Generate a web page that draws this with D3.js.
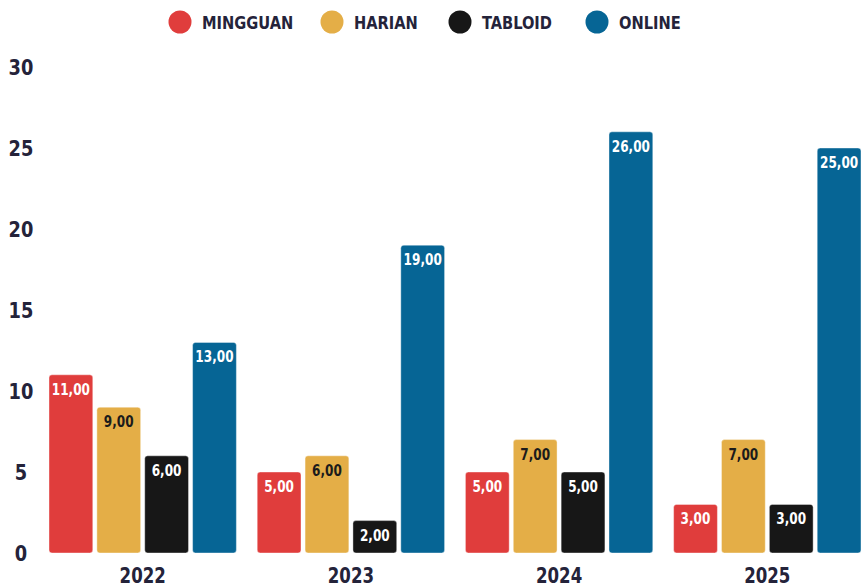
<!DOCTYPE html>
<html>
<head>
<meta charset="utf-8">
<script src="https://cdn.jsdelivr.net/npm/d3@7"></script>
<style>
  body { margin: 0; background: #fff; }
  text { font-family: "DejaVu Sans Condensed", sans-serif; font-weight: bold; }
</style>
</head>
<body>
<svg id="chart" width="863" height="588"></svg>
<script>
const years = ["2022", "2023", "2024", "2025"];
const seriesNames = ["MINGGUAN", "HARIAN", "TABLOID", "ONLINE"];
const mingguan = [11, 5, 5, 3];
const harian = [9, 6, 7, 7];
const tabloid = [6, 2, 5, 3];
const online = [13, 19, 26, 25];
const yTicks = [0, 5, 10, 15, 20, 25, 30];

const colors = ["#e03d3c", "#e4ae47", "#171717", "#066595"];
const labelColors = ["#fff", "#1b1b1b", "#fff", "#fff"];
const ink = "#24233a";

const svg = d3.select("#chart");

const values = [mingguan, harian, tabloid, online];
const data = years.map((yr, i) => ({
    year: yr,
    bars: seriesNames.map((s, j) => ({ s: s, j: j, v: values[j][i] }))
}));

const x0 = d3.scaleBand().domain(years).range([49, 861]).paddingInner(0.1).paddingOuter(0);
const x1 = d3.scaleBand().domain(seriesNames).range([0, x0.bandwidth()]).paddingInner(0.085);
const y = d3.scaleLinear().domain([0, 30]).range([553, 67]);

// narrow the condensed font a bit more, the original uses a display face
const squeeze = (sx) => (x, yy) => `translate(${x},${yy}) scale(${sx},1)`;

// y axis labels
svg.append("g").selectAll("text")
    .data(yTicks)
    .join("text")
    .attr("transform", d => squeeze(0.9)(21, y(d)))
    .attr("dy", "0.36em")
    .attr("text-anchor", "middle")
    .attr("fill", ink)
    .attr("font-size", 22)
    .text(d => d);

const groups = svg.append("g").selectAll("g")
    .data(data)
    .join("g")
    .attr("transform", d => `translate(${x0(d.year)},0)`);

groups.selectAll("rect")
    .data(d => d.bars)
    .join("rect")
    .attr("x", d => x1(d.s))
    .attr("y", d => y(d.v))
    .attr("width", x1.bandwidth())
    .attr("height", d => y(0) - y(d.v))
    .attr("rx", 3)
    .attr("fill", d => colors[d.j])
    .attr("stroke", "#fff")
    .attr("stroke-opacity", 0.5)
    .attr("stroke-width", 0.8);

groups.selectAll("text.val")
    .data(d => d.bars)
    .join("text")
    .attr("class", "val")
    .attr("transform", d => squeeze(0.84)(x1(d.s) + x1.bandwidth() / 2, y(d.v) + 20))
    .attr("text-anchor", "middle")
    .attr("font-size", 16)
    .attr("fill", d => labelColors[d.j])
    .text(d => d3.format(".2f")(d.v).replace(".", ","));

// x axis labels
svg.append("g").selectAll("text")
    .data(years)
    .join("text")
    .attr("transform", d => squeeze(0.84)(x0(d) + x0.bandwidth() / 2, 583))
    .attr("text-anchor", "middle")
    .attr("fill", ink)
    .attr("font-size", 22)
    .text(d => d);

// legend
const legendX = [180, 332, 460, 597];
const legend = svg.append("g").selectAll("g")
    .data(seriesNames)
    .join("g")
    .attr("transform", (d, i) => `translate(${legendX[i]},22)`);
legend.append("circle").attr("r", 11.5).attr("fill", (d, i) => colors[i]);
legend.append("text")
    .attr("transform", squeeze(0.88)(22, 0))
    .attr("dy", "0.36em")
    .attr("font-size", 18.5)
    .attr("fill", ink)
    .text(d => d);
</script>
</body>
</html>
